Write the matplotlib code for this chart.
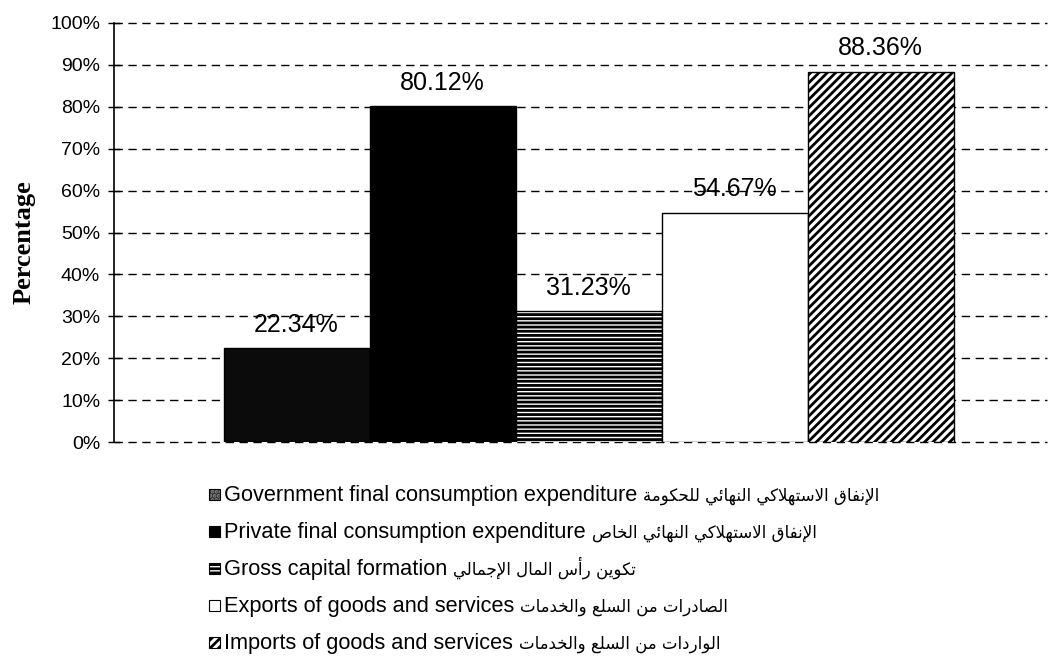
import matplotlib
matplotlib.use("Agg")
import matplotlib.pyplot as plt
from matplotlib.patches import Rectangle
from matplotlib.ticker import PercentFormatter

plt.rcParams['font.family'] = ['Liberation Sans', 'DejaVu Sans']
plt.rcParams['hatch.linewidth'] = 2.0

# datos
series_en = [
    "Government final consumption expenditure",
    "Private final consumption expenditure",
    "Gross capital formation",
    "Exports of goods and services",
    "Imports of goods and services",
]
series_ar = [
    "الإنفاق الاستهلاكي النهائي للحكومة",
    "الإنفاق الاستهلاكي النهائي الخاص",
    "تكوين رأس المال الإجمالي",
    "الصادرات من السلع والخدمات",
    "الواردات من السلع والخدمات",
]
values = [22.34, 80.12, 31.23, 54.67, 88.36]
yticks = list(range(0, 101, 10))

# estilos de cada barra
faces = ['#0b0b0b', 'black', 'white', 'white', 'white']
hatches = [None, None, '----', None, '////']

# matplotlib no da forma al arabe, asi que se pasa a formas de presentacion
AR_FORMS = {
    'ء': (0xFE80, 1), 'آ': (0xFE81, 2), 'أ': (0xFE83, 2), 'ؤ': (0xFE85, 2),
    'إ': (0xFE87, 2), 'ئ': (0xFE89, 4), 'ا': (0xFE8D, 2), 'ب': (0xFE8F, 4),
    'ة': (0xFE93, 2), 'ت': (0xFE95, 4), 'ث': (0xFE99, 4), 'ج': (0xFE9D, 4),
    'ح': (0xFEA1, 4), 'خ': (0xFEA5, 4), 'د': (0xFEA9, 2), 'ذ': (0xFEAB, 2),
    'ر': (0xFEAD, 2), 'ز': (0xFEAF, 2), 'س': (0xFEB1, 4), 'ش': (0xFEB5, 4),
    'ص': (0xFEB9, 4), 'ض': (0xFEBD, 4), 'ط': (0xFEC1, 4), 'ظ': (0xFEC5, 4),
    'ع': (0xFEC9, 4), 'غ': (0xFECD, 4), 'ف': (0xFED1, 4), 'ق': (0xFED5, 4),
    'ك': (0xFED9, 4), 'ل': (0xFEDD, 4), 'م': (0xFEE1, 4), 'ن': (0xFEE5, 4),
    'ه': (0xFEE9, 4), 'و': (0xFEED, 2), 'ى': (0xFEEF, 2), 'ي': (0xFEF1, 4),
    'لآ': (0xFEF5, 2), 'لأ': (0xFEF7, 2), 'لإ': (0xFEF9, 2), 'لا': (0xFEFB, 2),
}


def shape_arabic(text):
    tokens = []
    i = 0
    while i < len(text):
        pair = text[i:i + 2]
        if len(pair) == 2 and pair in AR_FORMS:
            tokens.append(pair)
            i += 2
        else:
            tokens.append(text[i])
            i += 1
    out = []
    for k, t in enumerate(tokens):
        if t not in AR_FORMS:
            out.append(t)
            continue
        base, n = AR_FORMS[t]
        prev = tokens[k - 1] if k > 0 else ''
        nxt = tokens[k + 1] if k + 1 < len(tokens) else ''
        jp = n > 1 and AR_FORMS.get(prev, (0, 0))[1] == 4
        jn = n == 4 and AR_FORMS.get(nxt, (0, 1))[1] > 1
        idx = 3 if (jp and jn) else 1 if jp else 2 if jn else 0
        out.append(chr(base + idx))
    return ''.join(reversed(out))


W, H = 1052, 666
fig = plt.figure(figsize=(W / 100, H / 100), dpi=100)
ax = fig.add_axes([0.1084, 0.3363, 0.8866, 0.6292])

x = list(range(len(values)))
bars = ax.bar(x, values, width=1.0, color=faces, edgecolor='black',
              linewidth=1.0, zorder=2)
for b, h in zip(bars, hatches):
    if h:
        b.set_hatch(h)

for xi, v in zip(x, values):
    ax.annotate(f"{v:.2f}%", (xi, v), xytext=(0, 17), textcoords='offset points',
                ha='center', va='center', fontsize=18, zorder=3)

ax.set_ylim(0, 100)
ax.set_xlim(-1.25, 5.137)
ax.set_yticks(yticks)
ax.yaxis.set_major_formatter(PercentFormatter(decimals=0))
ax.set_xticks([])
ax.tick_params(axis='y', direction='inout', length=8, width=1, labelsize=14, pad=6)

ax.set_axisbelow(True)
ax.yaxis.grid(True, linestyle=(0, (6, 4)), color='black', linewidth=1)
for gl in ax.get_ygridlines():
    gl.set_clip_on(False)

for s in ['top', 'right', 'bottom']:
    ax.spines[s].set_visible(False)
ax.spines['left'].set_linewidth(1.2)

ax.set_ylabel('Percentage', family='Liberation Serif', fontweight='bold',
              fontsize=19)
ax.yaxis.set_label_coords(-0.084, 0.477)

# leyenda a mano: filas parejas y el arabe algo mas chico que el ingles
renderer = fig.canvas.get_renderer()
y0, dy = 501, 37
for k, (en, ar, f, h) in enumerate(zip(series_en, series_ar, faces, hatches)):
    yb = 1 - (y0 + k * dy) / H
    box = (209 / W, yb + 1 / H)
    sw, sh = 11 / W, 11 / H
    if k == 0:
        fig.add_artist(Rectangle(box, sw, sh, transform=fig.transFigure,
                                 facecolor='#2a2a2a', edgecolor='#8a8a8a',
                                 hatch='....', linewidth=0))
        fig.add_artist(Rectangle(box, sw, sh, transform=fig.transFigure,
                                 fill=False, edgecolor='black', linewidth=0.8))
    else:
        fig.add_artist(Rectangle(box, sw, sh, transform=fig.transFigure,
                                 facecolor=f, edgecolor='black', hatch=h,
                                 linewidth=0.8))
    t_en = fig.text(224 / W, yb, en, fontsize=15.7, ha='left', va='baseline')
    bb = t_en.get_window_extent(renderer)
    fig.text((bb.x1 + 6) / W, yb, shape_arabic(ar), fontsize=12,
             family='DejaVu Sans', ha='left', va='baseline')

fig.savefig("out.png", dpi=100)
